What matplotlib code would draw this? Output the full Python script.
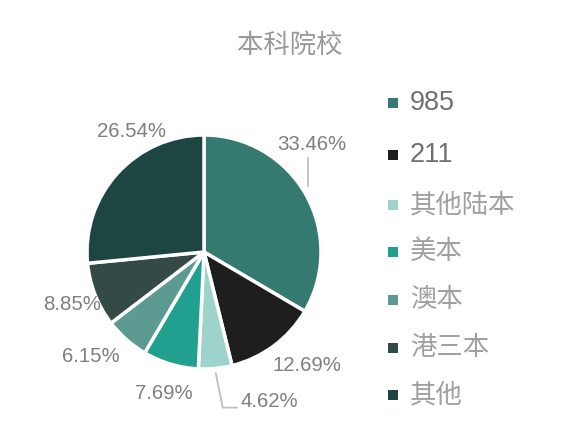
import matplotlib
matplotlib.use("Agg")
import matplotlib.pyplot as plt
import numpy as np

plt.rcParams['font.family'] = ['Liberation Sans', 'Noto Sans CJK SC', 'DejaVu Sans']

title = "本科院校"
categories = ["985", "211", "其他陆本", "美本", "澳本", "港三本", "其他"]
values = [33.46, 12.69, 4.62, 7.69, 6.15, 8.85, 26.54]
colors = ["#347a70", "#1e1e1e", "#9ed3cc", "#21a090", "#5c9a92", "#334a47", "#1d4642"]

# label text positions (in pie radius units), style only
label_pos = [(0.92, 0.92), (0.88, -0.97), (0.56, -1.28), (-0.34, -1.21),
             (-0.97, -0.89), (-1.13, -0.45), (-0.62, 1.03)]

W, H = 586, 433
fig = plt.figure(figsize=(W / 100, H / 100), dpi=100)
cx, cy, r = 204, 252, 117
ax = fig.add_axes([(cx - r) / W, (H - cy - r) / H, 2 * r / W, 2 * r / H])
wedges, _ = ax.pie(values, colors=colors, startangle=90, counterclock=False,
                   radius=1.0, wedgeprops=dict(edgecolor="white", linewidth=2.5))
ax.set_xlim(-1, 1)
ax.set_ylim(-1, 1)
ax.set_aspect("equal")
ax.axis("off")

lab_color = "#7f7f7f"
for v, (lx, ly) in zip(values, label_pos):
    ax.text(lx, ly, f"{v:.2f}%", ha="center", va="center", fontsize=14.7,
            color=lab_color, clip_on=False)

def mid_point(w, rad):
    a = np.deg2rad((w.theta1 + w.theta2) / 2)
    return rad * np.cos(a), rad * np.sin(a)

# leader for 985
ax.plot([0.89, 0.89], [0.56, 0.80], color="#bfbfbf", lw=1.3, clip_on=False)
# leader for 其他陆本
x0, y0 = mid_point(wedges[2], 1.04)
ax.plot([x0, 0.16, 0.28], [y0, -1.33, -1.33], color="#bfbfbf", lw=1.3, clip_on=False)

fig.text(290 / W, 1 - 45 / H, title, ha="center", va="center", fontsize=19,
         color="#999999", weight="light", family=['Noto Sans CJK SC', 'DejaVu Sans'])

# legend
rows = [103, 155, 205, 252, 300, 348, 395]
for cat, col, yy in zip(categories, colors, rows):
    fig.patches.append(plt.Rectangle(((393 - 5) / W, 1 - (yy + 5) / H), 10 / W, 10 / H,
                                     transform=fig.transFigure, facecolor=col, edgecolor="none"))
    is_num = cat.isdigit()
    fig.text(410 / W, 1 - yy / H, cat, ha="left", va="center",
             fontsize=19.5 if is_num else 19,
             color="#707070" if is_num else "#a0a0a0",
             weight="normal" if is_num else "light",
             family=['Liberation Sans', 'Noto Sans CJK SC', 'DejaVu Sans'])

fig.savefig("out.png", dpi=100, facecolor="white")
